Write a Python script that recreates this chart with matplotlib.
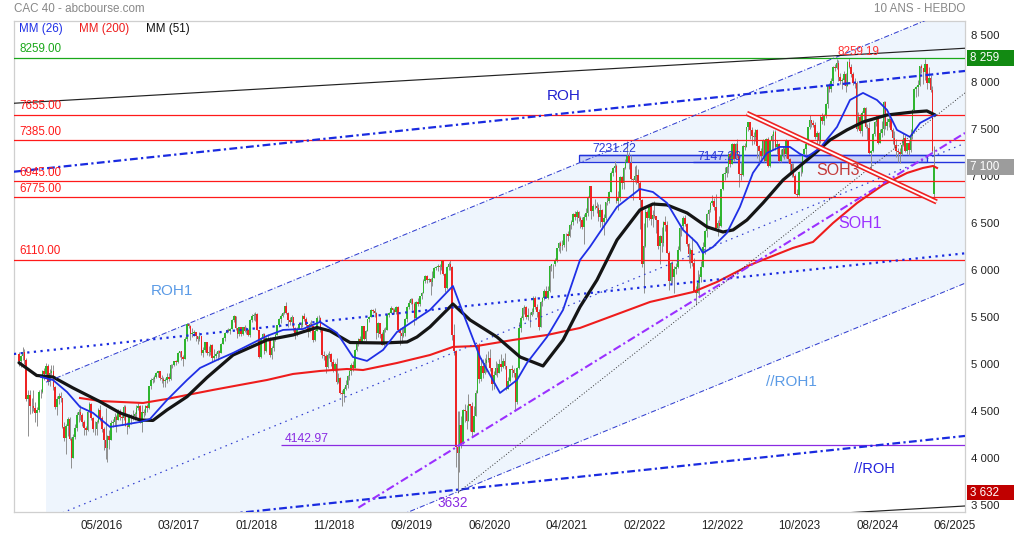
import numpy as np
import matplotlib
matplotlib.use("Agg")
import matplotlib.pyplot as plt
from matplotlib.patches import Rectangle
import matplotlib.transforms as mtransforms

plt.rcParams['font.family'] = ['Liberation Sans', 'DejaVu Sans']

# ---------------- weekly CAC 40 candles (week index 0 = 20 Jul 2015) ----------------
first_open = 5110
last_open = 6810

close_2015 = [5036, 5082, 5125, 5047, 4630, 4675, 4552, 4557, 4535, 4481, 4507, 4701, 4703, 4923, 4897, 4985, 4810, 4910, 4931, 4756, 4548, 4625, 4663, 4637]
high_2015 = [5130, 5100, 5180, 5160, 5060, 4720, 4720, 4640, 4720, 4600, 4540, 4720, 4740, 4940, 4960, 5010, 5000, 4950, 4990, 4990, 4770, 4660, 4690, 4700]
low_2015 = [4980, 4970, 5040, 5000, 4610, 4230, 4470, 4480, 4500, 4380, 4340, 4490, 4640, 4690, 4830, 4870, 4780, 4770, 4880, 4720, 4520, 4460, 4570, 4600]

close_2016 = [4333, 4210, 4336, 4417, 4201, 4005, 4223, 4315, 4456, 4492, 4462, 4380, 4315, 4303, 4495, 4570, 4428, 4311, 4311, 4381, 4515, 4421, 4306, 4193, 4106, 4237, 4190, 4372, 4381, 4440, 4410, 4500, 4437, 4424, 4542, 4345, 4332, 4450, 4448, 4449, 4470, 4536, 4549, 4377, 4489, 4479, 4550, 4529, 4764, 4833, 4838, 4862]
high_2016 = [4640, 4380, 4360, 4440, 4440, 4220, 4260, 4360, 4490, 4520, 4560, 4480, 4400, 4340, 4510, 4600, 4590, 4440, 4390, 4410, 4530, 4560, 4450, 4330, 4530, 4240, 4300, 4400, 4420, 4480, 4460, 4520, 4520, 4460, 4560, 4560, 4380, 4470, 4470, 4510, 4490, 4560, 4590, 4560, 4560, 4520, 4560, 4580, 4770, 4850, 4860, 4880]
low_2016 = [4320, 4180, 4040, 4230, 4190, 3892, 4050, 4200, 4290, 4380, 4400, 4340, 4240, 4250, 4290, 4490, 4410, 4280, 4250, 4240, 4370, 4390, 4280, 4080, 3990, 3956, 4100, 4190, 4330, 4340, 4280, 4400, 4400, 4350, 4400, 4340, 4260, 4320, 4360, 4410, 4410, 4440, 4510, 4370, 4280, 4440, 4460, 4490, 4520, 4740, 4800, 4810]

close_2017 = [4909, 4922, 4850, 4839, 4825, 4827, 4867, 4845, 4995, 4993, 5029, 5020, 5122, 5135, 5071, 5059, 5267, 5432, 5405, 5324, 5336, 5343, 5299, 5263, 5295, 5121, 5145, 5235, 5118, 5131, 5203, 5061, 5087, 5112, 5137, 5113, 5213, 5282, 5329, 5360, 5351, 5372, 5467, 5517, 5380, 5319, 5390, 5316, 5399, 5350, 5365, 5312]
high_2017 = [4920, 4930, 4920, 4880, 4860, 4850, 4900, 4900, 5000, 5000, 5030, 5040, 5130, 5140, 5140, 5100, 5290, 5440, 5440, 5420, 5380, 5360, 5320, 5300, 5340, 5300, 5180, 5240, 5240, 5190, 5210, 5210, 5160, 5130, 5150, 5150, 5220, 5290, 5340, 5370, 5380, 5380, 5480, 5520, 5510, 5380, 5400, 5400, 5400, 5420, 5390, 5370]
low_2017 = [4850, 4860, 4830, 4800, 4760, 4760, 4800, 4820, 4830, 4960, 4980, 4990, 5010, 5080, 5040, 4980, 5050, 5250, 5380, 5260, 5290, 5300, 5250, 5210, 5250, 5100, 5080, 5130, 5100, 5090, 5100, 5030, 5040, 5060, 5040, 5080, 5140, 5210, 5250, 5330, 5340, 5320, 5370, 5450, 5360, 5280, 5300, 5300, 5310, 5340, 5320, 5300]

close_2018 = [5470, 5517, 5526, 5529, 5364, 5079, 5283, 5317, 5136, 5274, 5282, 5095, 5167, 5258, 5315, 5412, 5483, 5516, 5541, 5614, 5543, 5465, 5450, 5501, 5387, 5324, 5375, 5429, 5419, 5512, 5478, 5415, 5344, 5432, 5407, 5253, 5352, 5494, 5493, 5359, 5095, 5084, 4967, 5102, 5108, 5025, 4947, 5003, 4813, 4853, 4693, 4679]
high_2018 = [5480, 5530, 5540, 5560, 5540, 5350, 5290, 5330, 5330, 5290, 5320, 5290, 5190, 5280, 5330, 5420, 5490, 5530, 5560, 5620, 5657, 5560, 5500, 5520, 5480, 5400, 5390, 5440, 5450, 5520, 5540, 5500, 5420, 5450, 5470, 5410, 5370, 5510, 5520, 5500, 5370, 5140, 5110, 5120, 5140, 5120, 5050, 5020, 5060, 4910, 4860, 4720]
low_2018 = [5290, 5450, 5470, 5460, 5360, 5060, 5060, 5240, 5110, 5130, 5250, 5080, 5050, 5140, 5250, 5320, 5400, 5440, 5500, 5530, 5530, 5400, 5420, 5410, 5350, 5270, 5300, 5370, 5380, 5400, 5460, 5400, 5290, 5350, 5390, 5240, 5250, 5350, 5460, 5340, 5070, 5040, 4900, 4960, 5060, 4980, 4920, 4930, 4790, 4800, 4680, 4555]

close_2019 = [4737, 4781, 4876, 4925, 4990, 4961, 5153, 5215, 5265, 5231, 5405, 5269, 5350, 5476, 5502, 5580, 5569, 5549, 5327, 5438, 5316, 5208, 5364, 5367, 5528, 5539, 5594, 5573, 5552, 5610, 5359, 5327, 5300, 5326, 5480, 5604, 5655, 5690, 5640, 5488, 5665, 5636, 5722, 5762, 5889, 5939, 5894, 5905, 5871, 5919, 6021, 6037]
high_2019 = [4760, 4830, 4880, 4940, 5010, 5030, 5160, 5230, 5280, 5300, 5410, 5410, 5360, 5480, 5510, 5590, 5590, 5600, 5550, 5450, 5440, 5340, 5380, 5400, 5540, 5550, 5620, 5600, 5600, 5620, 5620, 5380, 5390, 5400, 5490, 5620, 5680, 5700, 5700, 5660, 5670, 5700, 5730, 5770, 5910, 5950, 5950, 5920, 5920, 5990, 6030, 6050]
low_2019 = [4600, 4720, 4750, 4830, 4880, 4930, 4960, 5140, 5190, 5220, 5220, 5260, 5250, 5350, 5450, 5500, 5540, 5500, 5270, 5290, 5280, 5200, 5190, 5340, 5370, 5500, 5540, 5540, 5530, 5530, 5340, 5200, 5230, 5290, 5300, 5450, 5590, 5640, 5580, 5420, 5470, 5620, 5620, 5690, 5760, 5860, 5860, 5870, 5740, 5830, 5920, 6000]

close_2020 = [6044, 6037, 6101, 5956, 5806, 6030, 6069, 6029, 5310, 5140, 4118, 4049, 4351, 4154, 4507, 4499, 4393, 4572, 4549, 4277, 4445, 4695, 5197, 4839, 4979, 4910, 5007, 5044, 5070, 4956, 4784, 4889, 4962, 4910, 5002, 4965, 5034, 4979, 4730, 4825, 4947, 4936, 4910, 4594, 4961, 5380, 5495, 5598, 5609, 5507, 5528, 5522]
high_2020 = [6070, 6070, 6110, 6110, 5970, 6050, 6090, 6111, 6040, 5430, 5150, 4500, 4500, 4450, 4520, 4580, 4560, 4680, 4560, 4600, 4550, 4720, 5210, 5220, 5070, 5050, 5060, 5110, 5140, 5160, 4960, 4930, 5030, 5010, 5050, 5110, 5060, 5120, 4970, 4860, 4950, 4990, 4960, 4880, 4970, 5450, 5510, 5610, 5630, 5620, 5600, 5560]
low_2020 = [5990, 5960, 6000, 5950, 5770, 5800, 6000, 6000, 5260, 5100, 3900, 3632, 3850, 4110, 4150, 4380, 4310, 4390, 4290, 4230, 4280, 4450, 4690, 4800, 4820, 4850, 4890, 4920, 5020, 4930, 4720, 4740, 4880, 4860, 4920, 4930, 4960, 4950, 4720, 4740, 4810, 4860, 4860, 4500, 4580, 4950, 5340, 5470, 5530, 5480, 5470, 5400]

close_2021 = [5551, 5707, 5611, 5559, 5399, 5659, 5703, 5774, 5703, 5782, 6046, 6061, 6067, 6103, 6234, 6287, 6258, 6269, 6386, 6385, 6367, 6484, 6516, 6600, 6570, 6622, 6553, 6530, 6460, 6568, 6613, 6778, 6896, 6626, 6681, 6689, 6663, 6570, 6638, 6518, 6560, 6727, 6734, 6830, 7040, 7092, 7112, 6739, 6765, 6991, 6927, 7086, 7153]
high_2021 = [5600, 5730, 5730, 5640, 5590, 5670, 5710, 5800, 5830, 5830, 6060, 6070, 6070, 6130, 6240, 6300, 6310, 6320, 6390, 6400, 6420, 6490, 6530, 6610, 6630, 6640, 6630, 6580, 6570, 6600, 6660, 6790, 6900, 6900, 6710, 6760, 6730, 6700, 6710, 6650, 6600, 6730, 6780, 6840, 7060, 7100, 7160, 7130, 6840, 7000, 7000, 7100, 7180]
low_2021 = [5510, 5530, 5590, 5500, 5360, 5390, 5620, 5680, 5700, 5690, 5770, 5990, 5920, 6050, 6090, 6200, 6180, 6220, 6250, 6200, 6310, 6350, 6440, 6480, 6540, 6500, 6520, 6450, 6440, 6280, 6540, 6580, 6780, 6550, 6580, 6650, 6610, 6520, 6460, 6440, 6380, 6540, 6690, 6720, 6830, 7000, 7050, 6720, 6640, 6740, 6860, 6870, 7080]

close_2022 = [7219, 7143, 6969, 6965, 7007, 7011, 6929, 6752, 6062, 6260, 6620, 6553, 6684, 6548, 6590, 6581, 6534, 6258, 6363, 6285, 6516, 6485, 6187, 5882, 6074, 5931, 6008, 6036, 6217, 6449, 6472, 6553, 6495, 6274, 6168, 6212, 6077, 5783, 5762, 5866, 5932, 6036, 6243, 6416, 6595, 6644, 6712, 6742, 6677, 6452, 6505, 6474]
high_2022 = [7376, 7260, 7230, 6980, 7110, 7120, 7080, 6950, 6760, 6500, 6650, 6640, 6710, 6720, 6640, 6740, 6580, 6540, 6380, 6460, 6520, 6580, 6520, 6200, 6090, 6100, 6050, 6080, 6260, 6460, 6480, 6580, 6590, 6500, 6290, 6240, 6350, 6130, 5830, 6000, 5960, 6100, 6300, 6430, 6610, 6650, 6730, 6800, 6770, 6810, 6540, 6580]
low_2022 = [7150, 7080, 6960, 6750, 6940, 6920, 6860, 6440, 6030, 5760, 6250, 6460, 6540, 6480, 6460, 6560, 6400, 6230, 6070, 6190, 6260, 6420, 6180, 5790, 5850, 5860, 5760, 5960, 6020, 6200, 6360, 6440, 6470, 6260, 6080, 6020, 6050, 5770, 5628, 5760, 5730, 5870, 6070, 6170, 6350, 6540, 6620, 6690, 6640, 6430, 6360, 6450]

close_2023 = [6860, 7023, 7038, 7098, 7233, 7130, 7348, 7187, 7348, 7220, 7026, 7015, 7322, 7316, 7520, 7577, 7492, 7432, 7414, 7492, 7319, 7270, 7213, 7388, 7164, 7400, 7112, 7372, 7432, 7477, 7316, 7341, 7164, 7229, 7296, 7240, 7379, 7184, 7135, 7060, 7004, 6816, 6796, 7047, 7045, 7233, 7293, 7347, 7527, 7597, 7569, 7543]
high_2023 = [6870, 7040, 7100, 7110, 7250, 7260, 7350, 7350, 7360, 7400, 7260, 7150, 7330, 7360, 7530, 7580, 7580, 7520, 7470, 7500, 7500, 7330, 7300, 7400, 7390, 7410, 7420, 7380, 7450, 7490, 7490, 7390, 7360, 7290, 7320, 7310, 7400, 7370, 7200, 7140, 7140, 7020, 6870, 7060, 7110, 7240, 7300, 7350, 7530, 7650, 7600, 7600]
low_2023 = [6460, 6850, 6960, 6990, 7030, 7100, 7130, 7160, 7180, 7200, 6890, 6960, 7000, 7280, 7310, 7480, 7400, 7330, 7340, 7380, 7200, 7120, 7180, 7200, 7150, 7150, 7100, 7100, 7280, 7290, 7280, 7240, 7150, 7150, 7210, 7180, 7200, 7150, 7040, 6990, 6990, 6810, 6775, 6790, 7000, 7040, 7230, 7230, 7330, 7500, 7530, 7530]

close_2024 = [7420, 7465, 7371, 7635, 7592, 7648, 7768, 7966, 7934, 8016, 8164, 8152, 8206, 8061, 8011, 8022, 8088, 7957, 8219, 8168, 8094, 7993, 7999, 7503, 7628, 7479, 7675, 7724, 7523, 7517, 7252, 7270, 7449, 7577, 7631, 7352, 7465, 7501, 7792, 7541, 7577, 7614, 7497, 7409, 7338, 7270, 7256, 7235, 7330, 7409, 7274, 7355]
high_2024 = [7580, 7480, 7470, 7650, 7670, 7660, 7780, 7970, 7990, 8050, 8170, 8200, 8254, 8240, 8100, 8050, 8120, 8100, 8230, 8259, 8200, 8110, 8050, 8010, 7680, 7660, 7700, 7740, 7740, 7560, 7580, 7280, 7460, 7590, 7650, 7630, 7500, 7590, 7800, 7800, 7620, 7640, 7580, 7510, 7480, 7400, 7300, 7300, 7400, 7460, 7440, 7360]
low_2024 = [7400, 7340, 7300, 7350, 7560, 7550, 7620, 7730, 7900, 7900, 7990, 8120, 8140, 8020, 7980, 7930, 7970, 7900, 7960, 8150, 8060, 7970, 7940, 7480, 7530, 7460, 7430, 7570, 7510, 7390, 7240, 7030, 7260, 7430, 7540, 7340, 7350, 7420, 7440, 7500, 7490, 7520, 7480, 7340, 7300, 7210, 7150, 7140, 7230, 7320, 7260, 7240]

close_2025 = [7282, 7431, 7710, 7928, 7950, 7973, 8179, 8154, 8111, 8198, 7995, 8042, 7916, 7274, 7104]
high_2025 = [7390, 7500, 7720, 7940, 7960, 8030, 8180, 8200, 8140, 8250, 8200, 8160, 8080, 7960, 7320]
low_2025 = [7230, 7260, 7400, 7700, 7840, 7850, 7960, 8100, 7980, 8030, 7930, 7990, 7900, 7250, 6764]

# ---------------- moving averages (week index, value) ----------------
mm26_w = [12.2, 18.8, 26.6, 33.8, 41, 50.4, 57.6, 67, 72.6, 82, 93.1, 100.3, 109.7, 118.6, 129.6, 137.4, 146.3, 157.3, 166.8, 176.2, 185, 192.8, 201.7, 209.4, 227.7, 240.4, 246, 255.4, 266.5, 275.9, 281.4, 292.5, 301.4, 310.8, 316.3, 331.3, 344, 351.2, 359, 367.9, 375.6, 378.9, 384.5, 392.2, 399.4, 406.6, 414.4, 421.6, 427.1, 432.7, 436.6, 443.8, 453.2, 460.4, 467.6, 475.3, 480.9, 486.4, 493.6, 499.2, 507.5]
mm26_v = [4863, 4831, 4703, 4544, 4480, 4331, 4352, 4384, 4416, 4618, 4831, 4959, 5044, 5119, 5225, 5300, 5364, 5374, 5449, 5332, 5076, 5034, 5151, 5342, 5577, 5832, 5545, 5076, 4693, 4831, 5012, 5289, 5577, 6109, 6248, 6674, 6865, 6833, 6716, 6429, 6290, 6184, 6248, 6397, 6674, 7036, 7249, 7313, 7313, 7238, 7206, 7302, 7526, 7813, 7888, 7813, 7707, 7494, 7419, 7568, 7653]

mm51_w = [0, 9.8, 18.8, 29.9, 44.9, 56, 67, 74.2, 82, 93.1, 104.2, 118.6, 137.4, 151.8, 165.1, 172.3, 183.4, 201.7, 215, 220.5, 227.7, 240.4, 249.9, 264.8, 277.6, 290.3, 301.4, 310.8, 320.2, 331.3, 344, 351.2, 359, 370.1, 381.2, 390, 395.6, 403.3, 412.2, 423.3, 439.9, 449.3, 458.7, 467.6, 480.9, 495.3, 503, 507.5]
mm51_v = [5015, 4879, 4863, 4746, 4600, 4480, 4405, 4400, 4512, 4653, 4858, 5097, 5257, 5310, 5390, 5353, 5230, 5225, 5236, 5289, 5396, 5640, 5470, 5289, 5076, 4980, 5257, 5609, 5896, 6322, 6642, 6705, 6695, 6610, 6461, 6407, 6429, 6535, 6716, 6961, 7227, 7387, 7494, 7579, 7653, 7685, 7696, 7653]

mm200_w = [33.8, 44.9, 56, 68.7, 82, 93.1, 107.5, 122.4, 137.4, 151.8, 166.8, 181.7, 190.6, 209.4, 227.7, 240.4, 253.7, 273.7, 292.5, 310.8, 349.6, 373.4, 386.7, 405, 428.8, 439.9, 451, 464.3, 478.7, 492, 500.8, 506.4, 508.6]
mm200_v = [4639, 4607, 4597, 4586, 4629, 4671, 4725, 4778, 4831, 4895, 4927, 4948, 4937, 5012, 5097, 5183, 5193, 5257, 5310, 5385, 5662, 5768, 5875, 6056, 6237, 6301, 6503, 6716, 6908, 7036, 7089, 7110, 7089]

# ---------------- horizontal levels ----------------
level_values = [8259.00, 7655.00, 7385.00, 6945.00, 6775.00, 6110.00]
level_labels = ["8259.00", "7655.00", "7385.00", "6945.00", "6775.00", "6110.00"]
level_colors = ["#1aa81a", "#ff1a1a", "#ff1a1a", "#ff1a1a", "#ff1a1a", "#ff1a1a"]
support_4142 = 4142.97
band_low, band_high = 7147.26, 7231.22
low_3632 = 3632

# ---------------- trend lines (week index pairs, value pairs) ----------------
roh_top_w, roh_top_v = [-2.8, 524.1], [7049, 8122]
roh_mid_w, roh_mid_v = [-2.8, 524.1], [5108, 6180]
roh_bot_w, roh_bot_v = [-2.8, 524.1], [3162, 4235]
roh1_w = [15, 524.1]
roh1_top_v = [4808, 8833]
roh1_mid_v = [3345, 7352]
roh1_bot_v = [1839, 5861]
blk_top_w, blk_top_v = [-2.8, 524.1], [7778, 8364]
blk_bot_w, blk_bot_v = [-2.8, 524.1], [2903, 3489]
soh1_w, soh1_v = [188, 524.1], [3471, 7462]
blkdot_w, blkdot_v = [243.2, 524.1], [3632, 7888]
soh3_w, soh3_v = [403.2, 508.4], [7671, 6727]

xtick_labels = ["05/2016", "03/2017", "01/2018", "11/2018", "09/2019", "06/2020",
                "04/2021", "02/2022", "12/2022", "10/2023", "08/2024", "06/2025"]
ytick_values = [3500, 4000, 4500, 5000, 5500, 6000, 6500, 7000, 7500, 8000, 8500]
last_price = 7100
peak_value = 8259

# ================= drawing =================
W, H = 1014, 538
fig = plt.figure(figsize=(W / 100, H / 100), dpi=100)
ax = fig.add_axes([14 / W, 1 - 512 / H, 951 / W, 491 / H])
ax.set_facecolor("white")

closes = np.array(close_2015 + close_2016 + close_2017 + close_2018 + close_2019 + close_2020
                  + close_2021 + close_2022 + close_2023 + close_2024 + close_2025, dtype=float)
highs = np.array(high_2015 + high_2016 + high_2017 + high_2018 + high_2019 + high_2020
                 + high_2021 + high_2022 + high_2023 + high_2024 + high_2025, dtype=float)
lows = np.array(low_2015 + low_2016 + low_2017 + low_2018 + low_2019 + low_2020
                + low_2021 + low_2022 + low_2023 + low_2024 + low_2025, dtype=float)
n = len(closes)
weeks = np.arange(n)
opens = np.concatenate([[first_open], closes[:-1]])
opens[-1] = last_open

# channel shading
ax.fill_between(roh1_w, roh1_bot_v, roh1_top_v, color="#eef5fd", lw=0, zorder=0.5)

# blue band box
ax.add_patch(Rectangle((310.2, band_low), 503 - 310.2, band_high - band_low,
                       facecolor="#c8d1f6", edgecolor="#2233dd", lw=0.9, zorder=2.4))
ax.hlines(band_high, 310.2, 524.1, color="#2233dd", lw=1.0, zorder=2.5)
ax.hlines(band_low, 373.4, 524.1, color="#2233dd", lw=1.0, zorder=2.5)

# horizontal levels
for v, c in zip(level_values, level_colors):
    ax.axhline(v, color=c, lw=0.9, zorder=3.6)
ax.hlines(support_4142, 145.1, 524.1, color="#8a2be2", lw=0.9, zorder=3.6)

# candles
wick_lo = np.minimum(lows, np.minimum(opens, closes))
wick_hi = np.maximum(highs, np.maximum(opens, closes))
ax.vlines(weeks, wick_lo, wick_hi, color="#8f8f8f", lw=0.7, zorder=3)
up = closes >= opens
ax.bar(weeks[up], (closes - opens)[up], bottom=opens[up], width=0.88,
       color="#2fb52f", linewidth=0, zorder=3.2)
ax.bar(weeks[~up], (closes - opens)[~up], bottom=opens[~up], width=0.88,
       color="#ee2424", linewidth=0, zorder=3.2)

# moving averages
ax.plot(mm200_w, mm200_v, color="#ee1c1c", lw=1.5, zorder=4)
ax.plot(mm51_w, mm51_v, color="#151515", lw=2.3, zorder=4.1, solid_capstyle="round")
ax.plot(mm26_w, mm26_v, color="#1f2fe6", lw=1.3, zorder=4.2)

# trend lines
dd_thick = (0, (3.5, 1.5, 1, 1.5))
ax.plot(roh_top_w, roh_top_v, color="#1a2be0", lw=1.6, ls=dd_thick, zorder=5)
ax.plot(roh_bot_w, roh_bot_v, color="#1a2be0", lw=1.6, ls=dd_thick, zorder=5)
ax.plot(roh_mid_w, roh_mid_v, color="#1a2be0", lw=1.6, ls=(0, (1, 2)), zorder=5)
ax.plot(roh1_w, roh1_top_v, color="#3340d0", lw=0.75, ls=(0, (5, 2, 1, 2)), zorder=5)
ax.plot(roh1_w, roh1_bot_v, color="#3340d0", lw=0.75, ls=(0, (5, 2, 1, 2)), zorder=5)
ax.plot(roh1_w, roh1_mid_v, color="#3340d0", lw=0.9, ls=(0, (1.2, 3.5)), zorder=5)
ax.plot(blk_top_w, blk_top_v, color="#222222", lw=0.85, zorder=5)
ax.plot(blk_bot_w, blk_bot_v, color="#222222", lw=0.85, zorder=5)
ax.plot(soh1_w, soh1_v, color="#9b30ff", lw=1.5, ls=(0, (4, 1.5, 1, 1.5)), zorder=5)
ax.plot(blkdot_w, blkdot_v, color="#333333", lw=0.7, ls=(0, (1, 2)), zorder=5)
ax.plot(soh3_w, soh3_v, color="#ee2222", lw=3.8, zorder=5.5, solid_capstyle="butt")
ax.plot(soh3_w, soh3_v, color="white", lw=1.4, zorder=5.6, solid_capstyle="butt")

# level labels
blend = mtransforms.blended_transform_factory(ax.transAxes, ax.transData)
for v, lbl, c in zip(level_values, level_labels, level_colors):
    ax.annotate(lbl, xy=(5 / 951, v), xycoords=blend, xytext=(0, 6.2),
                textcoords="offset points", va="center", ha="left",
                fontsize=8.4, color=c, zorder=7)

# annotations
ax.text(465, 8327, "8259.19", color="#ff3030", fontsize=8.4, ha="center", va="center", zorder=7)
ax.text(330, 7288, "7231.22", color="#2a3ad8", fontsize=8.8, ha="center", va="center", zorder=7)
ax.text(387.8, 7203, "7147.26", color="#2a3ad8", fontsize=8.8, ha="center", va="center", zorder=7)
ax.text(159.6, 4203, "4142.97", color="#8a2be2", fontsize=8.8, ha="center", va="center", zorder=7)
ax.text(240.4, 3518, "3632", color="#8a2be2", fontsize=9.8, ha="center", va="center", zorder=7)
ax.text(302, 7850, "ROH", color="#2020d0", fontsize=11, ha="center", va="center", zorder=7)
ax.text(85, 5782, "ROH1", color="#5b9be6", fontsize=11, ha="center", va="center", zorder=7)
ax.text(427.7, 4813, "//ROH1", color="#5b9be6", fontsize=11, ha="center", va="center", zorder=7)
ax.text(473.7, 3883, "//ROH", color="#2222dd", fontsize=10.5, ha="center", va="center", zorder=7)
ax.text(453.5, 7060, "SOH3", color="#c43a3a", fontsize=11.5, ha="center", va="center", zorder=7)
ax.text(466.2, 6500, "SOH1", color="#9b30ff", fontsize=11.5, ha="center", va="center", zorder=7)

# axes
ax.set_xlim(-2.77, 524.1)
ax.set_ylim(3425, 8654)
for s in ax.spines.values():
    s.set_color("#cfcfcf")
    s.set_linewidth(0.9)
ax.set_xticks([45.5 + 43 * k for k in range(len(xtick_labels))])
ax.set_xticklabels(xtick_labels)
ax.yaxis.tick_right()
ax.set_yticks(ytick_values)
ax.set_yticklabels([f"{v // 1000} {v % 1000:03d}" for v in ytick_values])
ax.tick_params(axis="x", length=0, pad=6, labelsize=8.4, colors="#222222")
ax.tick_params(axis="y", length=0, pad=4, labelsize=8.2, colors="#222222")

# right value boxes
tb = mtransforms.blended_transform_factory(fig.transFigure, ax.transData)
box_h = 165
for v, txt, c in [(peak_value, "8 259", "#128a12"), (last_price, "7 100", "#9c9c9c"),
                  (low_3632, "3 632", "#c00000")]:
    ax.add_patch(Rectangle((967 / W, v - box_h / 2), (W - 967) / W, box_h, transform=tb,
                           facecolor=c, edgecolor="none", clip_on=False, zorder=10))
    ax.text(970 / W, v, txt, transform=tb, color="white", fontsize=8.4,
            ha="left", va="center", zorder=11, clip_on=False)

# header & legend
fig.text(14 / W, 1 - 9.3 / H, "CAC 40 - abcbourse.com", color="#888888", fontsize=8.4, ha="left", va="center")
fig.text(965 / W, 1 - 9.3 / H, "10 ANS - HEBDO", color="#888888", fontsize=8.4, ha="right", va="center")
fig.text(19 / W, 1 - 29.3 / H, "MM (26)", color="#1f2fe6", fontsize=8.4, ha="left", va="center")
fig.text(79 / W, 1 - 29.3 / H, "MM (200)", color="#ee1c1c", fontsize=8.4, ha="left", va="center")
fig.text(145.7 / W, 1 - 29.3 / H, "MM (51)", color="#111111", fontsize=8.4, ha="left", va="center")

ax.set_xlim(-2.77, 524.1)
ax.set_ylim(3425, 8654)
fig.savefig("out.png", dpi=100, facecolor="white")
